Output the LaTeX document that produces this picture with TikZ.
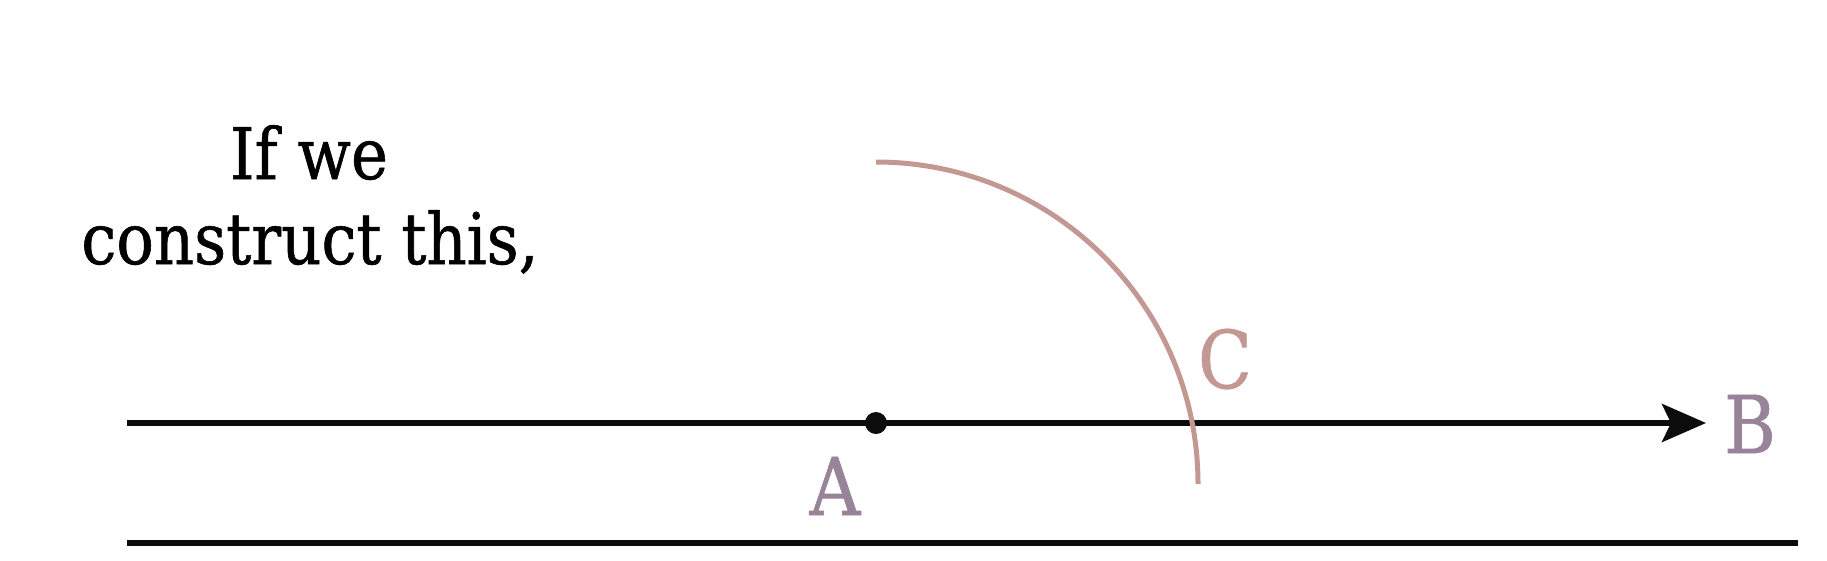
\documentclass[tikz,border=0pt]{standalone}
\usepackage{fontspec}
\setmainfont{DejaVu Serif}[FakeStretch=0.88,FakeBold=0.8]
\usetikzlibrary{arrows.meta}
\definecolor{labpurple}{RGB}{152,131,152}
\definecolor{arcrose}{RGB}{196,152,146}
\definecolor{ink}{RGB}{12,12,12}
\tikzset{
  line/.style={draw=ink, line width=6pt},
  txt/.style={font=\fontsize{71}{80}\selectfont, inner sep=0pt, anchor=base, text=black},
  lab/.style={font=\fontsize{80}{90}\selectfont, inner sep=0pt, text=labpurple},
}
\begin{document}
\begin{tikzpicture}[x=1pt,y=-1pt]
\useasboundingbox (0,0) rectangle (1827,560);
\node[txt] (t1) at (309,179) {If we};
\node[txt] (t2) at (310,264) {construct this,};
\coordinate (L) at (127,423);
\coordinate (R) at (1706,423);
\coordinate (L2) at (127,543);
\coordinate (R2) at (1798,543);
\draw[line, -{Stealth[length=44pt,width=38pt,inset=9pt]}] (L) -- (R);
\draw[line] (L2) -- (R2);
\coordinate (A) at (876,423);
\fill[ink] (A) circle (11pt);
\draw[arcrose, line width=5pt] (876,162) arc[start angle=90, end angle=0, radius=322pt];
\node[lab] (la) at (835,486) {A};
\node[lab] (lb) at (1750,424) {B};
\node[lab, text=arcrose] (lc) at (1225,359) {C};
\end{tikzpicture}
\end{document}
